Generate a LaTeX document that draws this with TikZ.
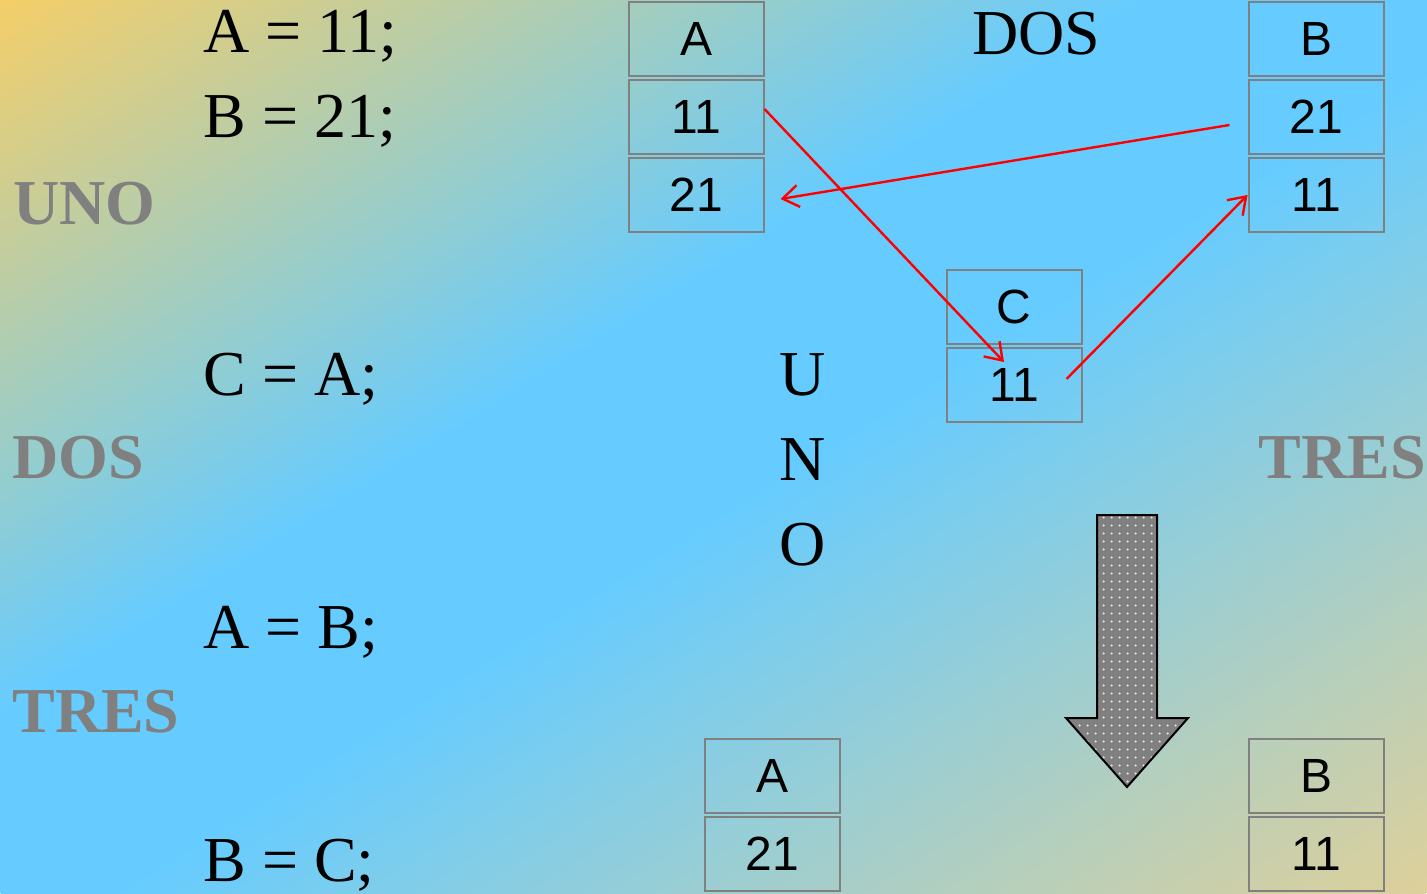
\documentclass[tikz,border=0pt]{standalone}
\usepackage{fontspec}
\setmainfont{Liberation Serif}
\newfontfamily\cellfont{Liberation Sans}
\usetikzlibrary{arrows.meta,positioning,calc,patterns.meta}
\definecolor{sky}{HTML}{66CCFF}
\definecolor{sand}{HTML}{F5CE68}
\definecolor{wheat}{HTML}{DED09A}
\definecolor{mark}{HTML}{808080}
\pgfdeclarehorizontalshading{backdrop}{100bp}{color(0bp)=(sand);color(25bp)=(sand);color(45bp)=(sky);color(52bp)=(sky);color(75bp)=(wheat);color(100bp)=(wheat)}
\tikzset{cell/.style={draw=mark,line width=1pt,minimum width=67.5pt,minimum height=37pt,inner sep=0pt,font=\cellfont\fontsize{24}{28}\selectfont}, code/.style={anchor=base west,inner sep=0pt,font=\fontsize{32}{36}\selectfont}, tag/.style={code,text=mark,font=\bfseries\fontsize{32}{36}\selectfont}, arr/.style={-{Straight Barb[length=8pt,width=11pt]},line width=1.2pt,draw=red}}
\begin{document}
\begin{tikzpicture}[x=0.5pt,y=-0.5pt]
\useasboundingbox(0,0)rectangle(1427,893);
\begin{scope}
\clip(0,0)rectangle(1427,893);
\shade[shading=backdrop,transform canvas={cm={7.135,-4.465,7.135,4.465,(0,0)}}](0pt,-50pt)rectangle(100pt,50pt);
\end{scope}
% program lines
\node[code](s1)at(203,53){A = 11;};\node[code](s2)at(203,138){B = 21;};\node[code](s3)at(203,395){C = A;};\node[code](s4)at(203,648){A = B;};\node[code](s5)at(203,881){B = C;};
\node[tag](t1)at(13,225){UNO};\node[tag](t2)at(12,478){DOS};\node[tag](t3)at(12,732){TRES};
\node[code](d1)at(972,55){DOS};\node[tag](t4)at(1258,478){TRES};
\node[code,anchor=base](u1)at(803,395){U};\node[code,anchor=base](u2)at(803,480){N};\node[code,anchor=base](u3)at(803,565){O};
% memory cells
\node[cell](a1)at(696,39){A};\node[cell,below=1pt of a1](a2){11};\node[cell,below=1pt of a2](a3){21};
\node[cell](b1)at(1316,39){B};\node[cell,below=1pt of b1](b2){21};\node[cell,below=1pt of b2](b3){11};
\node[cell](c1)at(1014,307){C};\node[cell,below=1pt of c1](c2){11};
\node[cell](e1)at(772,776){A};\node[cell,below=1pt of e1](e2){21};
\node[cell](f1)at(1316,776){B};\node[cell,below=1pt of f1](f2){11};
% moves
\draw[arr]($(a2.east)+(0,-8)$)--($(c2.north)+(-10,15)$);
\draw[arr]($(c2.east)+(-16,-6)$)--(b3.west);
\draw[arr]($(b2.west)+(-18,8)$)--($(a3.east)+(16,4)$);
\draw[line width=1pt,preaction={fill=mark},pattern={Dots[distance=4pt,radius=0.7pt]},pattern color=white!75!mark](1097,515)--(1157,515)--(1157,718)--(1188,718)--(1127,787)--(1066,718)--(1097,718)--cycle;
\end{tikzpicture}
\end{document}
